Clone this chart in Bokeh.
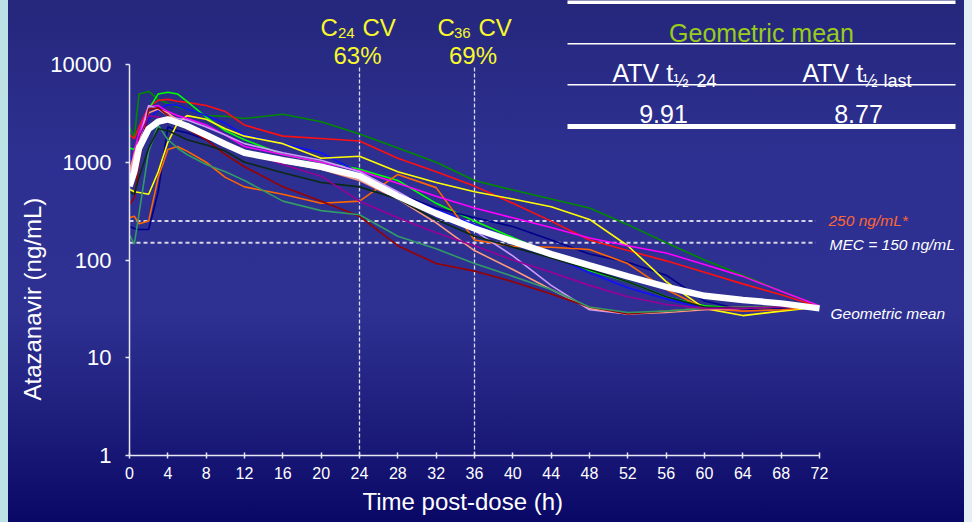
from bokeh.plotting import figure
from bokeh.models import Label, BoxAnnotation, FixedTicker, NumeralTickFormatter, Range1d, Title
from bokeh.embed import file_html
from bokeh.resources import INLINE

# ---------------- data ----------------
time_h = [0, 0.5, 1, 2, 3, 4, 5, 6, 8, 10, 12, 16, 20, 24, 28, 32, 36, 40, 44, 48, 52, 56, 60, 64, 68, 72]

subj_darkgreen = [2300, 1800, 5000, 5300, 4400, 4000, 3700, 3500, 3000, 2950, 2800, 3100, 2600, 1950, 1400, 1000, 650, 520, 420, 340, 230, 150, 100, 70, 48, 34]
subj_red = [1900, 1750, 2300, 3700, 4300, 4400, 4200, 4100, 3800, 3300, 2400, 1850, 1750, 1650, 1100, 800, 570, 380, 250, 160, 125, 98, 75, 57, 44, 33]
subj_green = [1400, 1350, 1700, 3500, 5000, 5200, 5000, 4200, 2900, 2100, 1700, 1200, 1000, 850, 650, 380, 250, 170, 115, 78, 60, 42, 34, 32, 32, 32]
subj_blue = [1200, 950, 1500, 2800, 3400, 3900, 3800, 3500, 3000, 2500, 1900, 1550, 1250, 780, 480, 330, 230, 160, 110, 74, 52, 40, 32, 30, 31, 32]
subj_navy = [220, 210, 205, 205, 500, 2300, 2100, 2000, 1700, 1500, 1300, 1050, 880, 700, 480, 340, 270, 220, 160, 115, 95, 70, 38, 31, 32, 33]
subj_yellow = [530, 500, 490, 470, 800, 1600, 2500, 3000, 2750, 2200, 1850, 1550, 1100, 1150, 800, 620, 500, 420, 350, 260, 140, 60, 32, 27, 30, 33]
subj_orange = [270, 280, 235, 250, 700, 1350, 1450, 1300, 1000, 700, 560, 470, 380, 400, 750, 550, 160, 138, 135, 128, 92, 50, 32, 30, 31, 33]
subj_magenta = [750, 1300, 2000, 3700, 3800, 3300, 3000, 2800, 2400, 1900, 1450, 1200, 1000, 820, 610, 450, 340, 270, 215, 168, 140, 118, 90, 68, 48, 34]
subj_lavender = [720, 1100, 1700, 3800, 3500, 3000, 2800, 2700, 2300, 1900, 1550, 1250, 1050, 800, 500, 300, 200, 110, 55, 31, 28, 30, 32, 33, 33, 33]
subj_salmon = [800, 1200, 1700, 3200, 3500, 3200, 2700, 2200, 1800, 1500, 1200, 1000, 850, 650, 420, 240, 125, 80, 50, 32, 28, 29, 31, 32, 33, 33]
subj_darkred = [370, 430, 1000, 3500, 3600, 3000, 2500, 2200, 1700, 1200, 900, 560, 400, 280, 140, 92, 77, 60, 45, 33, 28, 30, 32, 33, 33, 33]
subj_seagreen = [180, 145, 300, 1300, 2400, 1700, 1400, 1200, 950, 800, 650, 400, 320, 290, 175, 130, 92, 68, 50, 33, 29, 30, 32, 33, 33, 33]
subj_black = [500, 470, 700, 1400, 2200, 2100, 1900, 1700, 1500, 1300, 1000, 780, 620, 560, 420, 260, 175, 135, 105, 80, 60, 42, 33, 32, 33, 33]
subj_purple = [600, 900, 1800, 3000, 2900, 2700, 2500, 2300, 2000, 1600, 1300, 950, 720, 400, 270, 190, 140, 100, 75, 55, 42, 35, 32, 32, 33, 33]

geo_mean = [570, 800, 1400, 2200, 2600, 2750, 2550, 2350, 1900, 1530, 1250, 1050, 900, 720, 450, 300, 210, 155, 115, 88, 68, 53, 43, 39, 36, 32]

x_ticks = list(range(0, 73, 4))
y_ticks = [1, 10, 100, 1000, 10000]
ref_levels = [250, 150]
cv_times = [24, 36]

subjects = [
    (subj_darkgreen, "#008a00"),
    (subj_red, "#ff1010"),
    (subj_green, "#00ff00"),
    (subj_blue, "#1010ff"),
    (subj_navy, "#00008a"),
    (subj_yellow, "#ffff00"),
    (subj_orange, "#ff6600"),
    (subj_magenta, "#ff00ff"),
    (subj_lavender, "#cc99ff"),
    (subj_salmon, "#ff9980"),
    (subj_darkred, "#990000"),
    (subj_seagreen, "#339966"),
    (subj_black, "#0a2a14"),
    (subj_purple, "#990099"),
]

FONT = "Liberation Sans"
W, H = 972, 522
# pixel geometry of the axes in the reference
FL, FR, FT, FB = 129, 819, 64, 455
FR_EXT, FT_EXT = 964, 0          # frame extended so the annotations are not clipped
x_end = x_ticks[-1] * (FR_EXT - FL) / (FR - FL)
y_end = 10 ** (4 * (FB - FT_EXT) / (FB - FT))

p = figure(width=W, height=H, x_range=Range1d(0, x_end), y_range=Range1d(1, y_end),
           y_axis_type="log", output_backend="svg", toolbar_location=None,
           min_border_left=FL, min_border_right=W - FR_EXT, min_border_top=FT_EXT,
           min_border_bottom=H - FB)
p.background_fill_color = None
p.border_fill_color = None
p.outline_line_color = None
p.styles = {"background": "linear-gradient(to right, #bde2e6 0px, #bde2e6 8px, rgba(0,0,0,0) 8px, rgba(0,0,0,0) 964px, #e4f0f4 964px), "
                          "linear-gradient(to bottom, #25277c 0%, #2d3090 30%, #2e3192 60%, #1c1c7a 82%, #0a0866 100%)"}
p.xgrid.visible = False
p.ygrid.visible = False

for ax in (p.xaxis[0], p.yaxis[0]):
    ax.axis_line_color = "#e8e8f4"
    ax.axis_line_width = 1.5
    ax.major_tick_line_color = "#e8e8f4"
    ax.major_tick_line_width = 1.5
    ax.minor_tick_line_color = None
    ax.major_label_text_color = "#ffffff"
    ax.major_label_text_font = FONT

p.xaxis.ticker = FixedTicker(ticks=x_ticks)
p.xaxis.bounds = (x_ticks[0], x_ticks[-1])
p.xaxis.major_tick_in = 3
p.xaxis.major_tick_out = 3
p.xaxis.major_label_text_font_size = "16px"
p.xaxis.major_label_standoff = 8

p.yaxis.ticker = FixedTicker(ticks=y_ticks)
p.yaxis.bounds = (y_ticks[0], y_ticks[-1])
p.yaxis.formatter = NumeralTickFormatter(format="0")
p.yaxis.major_tick_in = 0
p.yaxis.major_tick_out = 4
p.yaxis.major_label_text_font_size = "22px"
p.yaxis.major_label_standoff = 14

# axis titles (as side titles so that they can sit where the reference has them)
p.add_layout(Title(text="Atazanavir (ng/mL)", align="left", offset=55, text_font=FONT,
                   text_font_size="24px", text_font_style="normal", text_color="#ffffff",
                   standoff=4), "left")
p.add_layout(Title(text="Time post-dose (h)", align="left", offset=362 - FL, text_font=FONT,
                   text_font_size="24px", text_font_style="normal", text_color="#ffffff",
                   standoff=9), "below")

# reference lines
p.segment(x0=cv_times, x1=cv_times, y0=[y_ticks[0]] * len(cv_times), y1=[y_ticks[-1] * 0.93] * len(cv_times),
          line_color="#dcdcf0", line_dash="4 2", line_width=1.3)
p.segment(x0=[x_ticks[0]] * len(ref_levels), x1=[x_ticks[-1] - 0.4] * len(ref_levels), y0=ref_levels, y1=ref_levels,
          line_color="#d4d4e6", line_dash="4 3", line_width=2)

for vals, col in subjects:
    p.line(time_h, vals, line_color=col, line_width=1.6)
p.line(time_h, geo_mean, line_color="#ffffff", line_width=6.5)


def dx(px):
    return (px - FL) / (FR - FL) * x_ticks[-1]


def dy(py):
    return 10 ** (4 - (py - FT) / (FB - FT) * 4.0)


def lab(px, py, text, size, color, align="left", style="normal"):
    p.add_layout(Label(x=dx(px), y=dy(py), text=text, text_font=FONT, text_font_size=size,
                       text_color=color, text_align=align, text_baseline="alphabetic",
                       text_font_style=style))


def hbar(px0, px1, py0, py1):
    p.add_layout(BoxAnnotation(left=dx(px0), right=dx(px1), top=dy(py0), bottom=dy(py1),
                               fill_color="#ffffff", fill_alpha=1, line_color=None))


YEL = "#f8f82c"
# CV annotations
lab(320, 27, "C", "24px", YEL)
lab(337.5, 32, "24", "15px", YEL)
lab(362, 27, "CV", "24px", YEL)
lab(357, 55, "63%", "24px", YEL, align="center")
lab(437, 27, "C", "24px", YEL)
lab(453.5, 32, "36", "15px", YEL)
lab(478, 27, "CV", "24px", YEL)
lab(472.5, 55, "69%", "24px", YEL, align="center")

# table
hbar(567, 955, -2, 3.5)
lab(761, 32, "Geometric mean", "25px", "#99cc1a", align="center")
hbar(567, 955, 42.5, 44)
lab(612, 72.5, "ATV t", "25px", "#ffffff")
lab(673, 80, "\u00bd", "18px", "#ffffff")
lab(696, 80, "24", "18px", "#ffffff")
lab(802, 72.5, "ATV t", "25px", "#ffffff")
lab(862, 80, "\u00bd", "18px", "#ffffff")
lab(883, 80, "last", "18px", "#ffffff")
hbar(567, 955, 83.5, 85)
lab(663, 113, "9.91", "25px", "#ffffff", align="center")
lab(858, 113, "8.77", "25px", "#ffffff", align="center")
hbar(567, 955, 123.5, 128.5)

# right-side labels
lab(828, 220, "250 ng/mL*", "15.5px", "#ff6633", style="italic")
lab(829, 244, "MEC = 150 ng/mL", "15.5px", "#ffffff", style="italic")
lab(830, 313, "Geometric mean", "15.5px", "#ffffff", style="italic")

open("out.html", "w").write(file_html(p, INLINE))
